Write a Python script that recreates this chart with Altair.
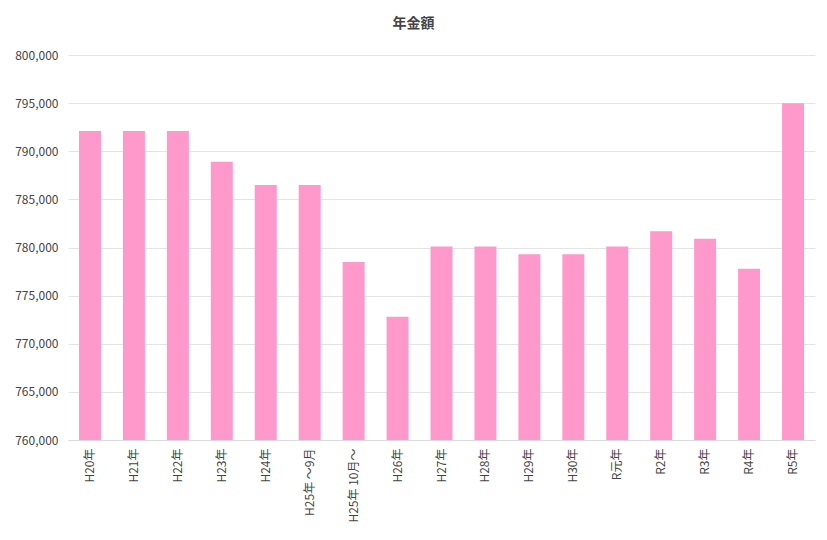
import altair as alt
import pandas as pd

categories = ["H20年", "H21年", "H22年", "H23年", "H24年", "H25年 ～9月", "H25年 10月～",
              "H26年", "H27年", "H28年", "H29年", "H30年", "R元年", "R2年", "R3年", "R4年", "R5年"]
values = [792100, 792100, 792100, 788900, 786500, 786500, 778500,
          772800, 780100, 780100, 779300, 779300, 780100, 781700, 780900, 777800, 795000]

df = pd.DataFrame({"cat": categories, "val": values})
FONT = "Noto Sans CJK JP"

chart = alt.Chart(df).mark_bar(color="#ff99cc", clip=True).encode(
    x=alt.X("cat:N", sort=categories, title=None,
            scale=alt.Scale(paddingInner=0.5, paddingOuter=0.25),
            axis=alt.Axis(labelAngle=270, labelFontSize=12, labelColor="#444",
                          ticks=False, domainColor="#d9d9e0", labelPadding=8,
                          labelFont=FONT, labelLimit=200)),
    y=alt.Y("val:Q", title=None,
            scale=alt.Scale(domain=[760000, 800000], nice=False, zero=False),
            axis=alt.Axis(values=list(range(760000, 800001, 5000)), format=",.0f",
                          labelFontSize=12, labelColor="#444", labelFont=FONT,
                          ticks=False, domain=False, gridColor="#e3e3e8",
                          labelPadding=10)),
).properties(
    width=747, height=385,
    title=alt.TitleParams("年金額", fontSize=14, font=FONT, fontWeight="bold",
                          color="#444", offset=18, dx=-28),
    autosize=alt.AutoSizeParams(type="none"),
    padding={"left": 60, "top": 47, "right": 4, "bottom": 90},
).configure_view(stroke=None)

chart.save("out.html", embed_options={"renderer": "svg", "actions": False})
